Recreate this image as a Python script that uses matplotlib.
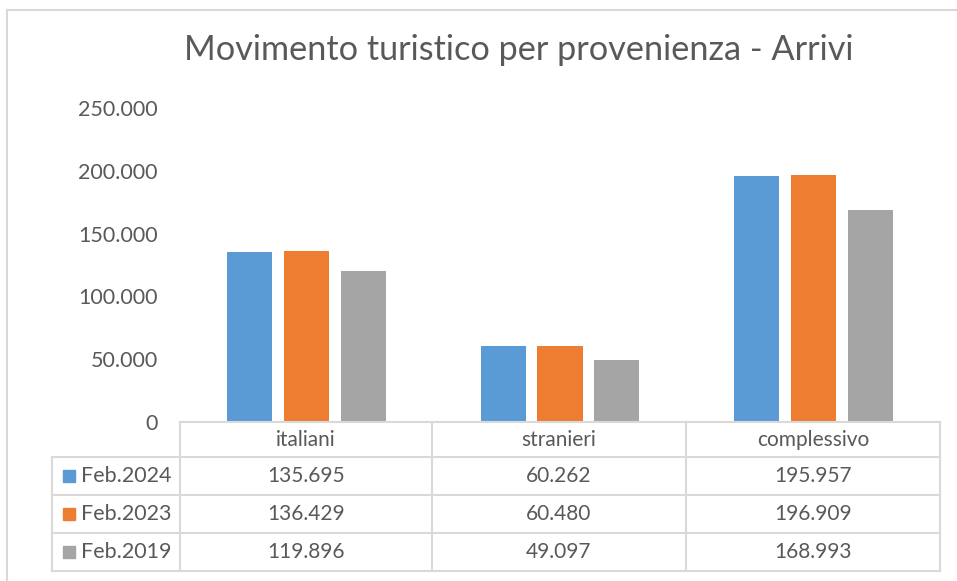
import numpy as np
import matplotlib
matplotlib.use('Agg')
import matplotlib.pyplot as plt
from matplotlib.lines import Line2D
from matplotlib.patches import Rectangle

# data
categories = ['italiani', 'stranieri', 'complessivo']
series_names = ['Feb.2024', 'Feb.2023', 'Feb.2019']
feb2024 = [135695, 60262, 195957]
feb2023 = [136429, 60480, 196909]
feb2019 = [119896, 49097, 168993]
y_ticks = [0, 50000, 100000, 150000, 200000, 250000]

colors = ['#5B9BD5', '#ED7D31', '#A5A5A5']
text_col = '#595959'
line_col = '#D9D9D9'
plt.rcParams['font.family'] = ['Lato', 'DejaVu Sans']

W, H = 957, 581


def fmt(v):
    return f"{v:,.0f}".replace(",", ".")


def fx(px):
    return px / W


def fy(py):
    return 1 - py / H


fig = plt.figure(figsize=(W / 100, H / 100), dpi=100)

# plot area in pixel coordinates of the reference
left, right, top, base = 180, 940, 108, 422
ax = fig.add_axes([fx(left), fy(base), fx(right - left), (base - top) / H])

series = [feb2024, feb2023, feb2019]
x = np.arange(len(categories))
width = 0.178
offsets = [-0.224, 0, 0.224]
for vals, off, c in zip(series, offsets, colors):
    ax.bar(x + off, vals, width=width, color=c)

ax.set_xlim(-0.5, len(categories) - 0.5)
ax.set_ylim(0, 250000)
ax.set_yticks(y_ticks)
ax.set_yticklabels([fmt(v) for v in y_ticks])
ax.tick_params(axis='y', length=0, pad=16, labelsize=15.5, labelcolor=text_col)
ax.set_xticks([])
for s in ax.spines.values():
    s.set_visible(False)

# title
fig.text(fx(519), fy(50), 'Movimento turistico per provenienza - Arrivi',
         ha='center', va='center', fontsize=24.7, color=text_col)

# outer chart frame
fig.add_artist(Line2D([fx(7), fx(957)], [fy(10), fy(10)], color=line_col, lw=1.5))
fig.add_artist(Line2D([fx(7), fx(7)], [fy(10), fy(581)], color=line_col, lw=1.5))

# data table below the axis
col_edges = [180, 432, 686, 940]
row_edges = [422, 457, 495, 533, 571]
leg_left = 52


def hline(y, x0, x1):
    fig.add_artist(Line2D([fx(x0), fx(x1)], [fy(y), fy(y)], color=line_col, lw=1.5))


def vline(xp, y0, y1):
    fig.add_artist(Line2D([fx(xp), fx(xp)], [fy(y0), fy(y1)], color=line_col, lw=1.5))


hline(row_edges[0], col_edges[0], col_edges[-1])
for y in row_edges[1:]:
    hline(y, leg_left, col_edges[-1])
vline(leg_left, row_edges[1], row_edges[-1])
for xp in col_edges:
    vline(xp, row_edges[0], row_edges[-1])

for i, cat in enumerate(categories):
    cx = (col_edges[i] + col_edges[i + 1]) / 2
    cy = (row_edges[0] + row_edges[1]) / 2
    fig.text(fx(cx), fy(cy), cat, ha='center', va='center', fontsize=15, color=text_col)

for r, (name, vals, c) in enumerate(zip(series_names, series, colors)):
    cy = (row_edges[r + 1] + row_edges[r + 2]) / 2
    fig.add_artist(Rectangle((fx(63), fy(cy + 6)), fx(12), 12 / H, color=c))
    fig.text(fx(81), fy(cy), name, ha='left', va='center', fontsize=15.5, color=text_col)
    for i, v in enumerate(vals):
        cx = (col_edges[i] + col_edges[i + 1]) / 2
        fig.text(fx(cx), fy(cy), fmt(v), ha='center', va='center', fontsize=15, color=text_col)

fig.savefig('out.png', dpi=100)
